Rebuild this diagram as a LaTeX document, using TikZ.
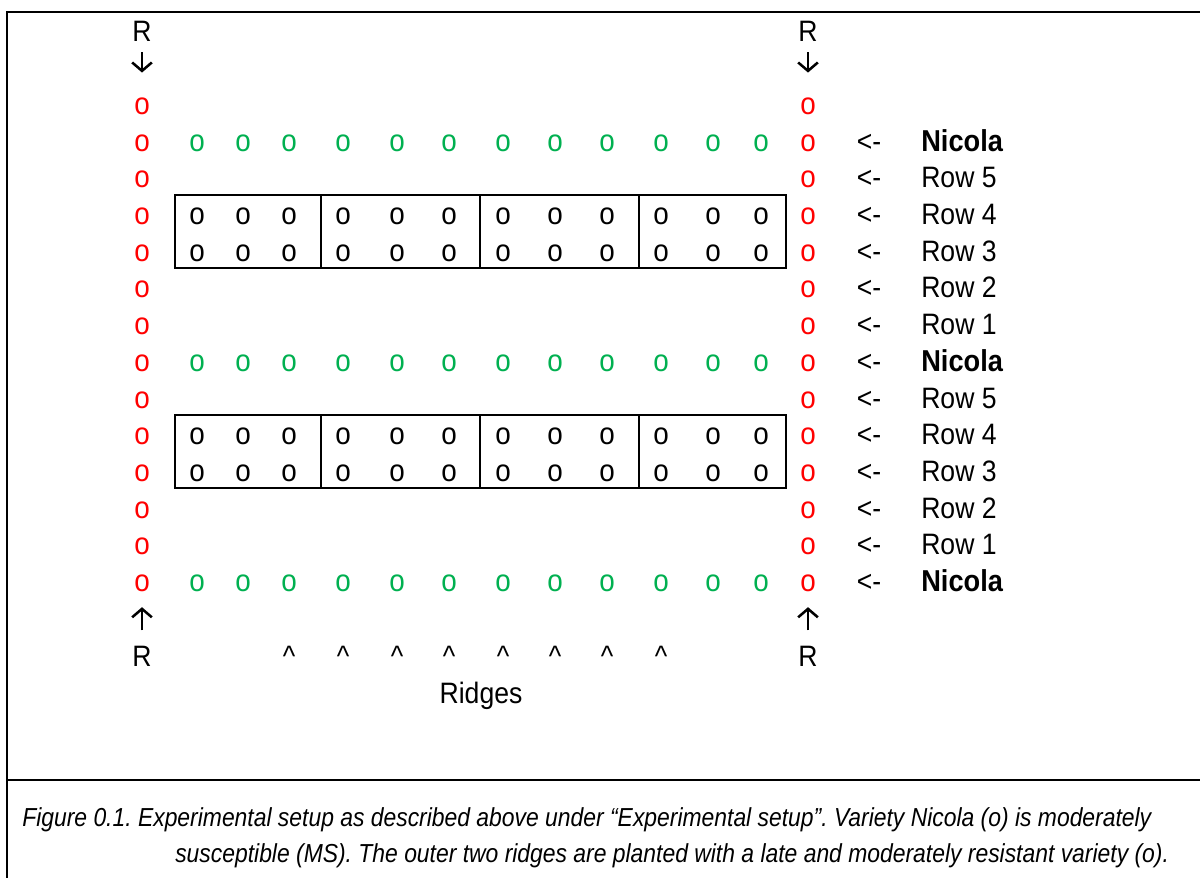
\documentclass[tikz,border=0pt]{standalone}
\usepackage{fontspec}
\setmainfont{Liberation Sans}[FakeStretch=0.9]
\newfontfamily\capfont{Liberation Sans}[FakeStretch=0.88]
\usetikzlibrary{arrows.meta}
\definecolor{borderred}{RGB}{255,0,0}
\definecolor{nicolagreen}{RGB}{0,176,80}
\frenchspacing
\begin{document}
\begin{tikzpicture}[x=0.025cm,y=-0.025cm,
    txt/.style={inner sep=0,anchor=base,font=\fontsize{21}{21}\selectfont},
    plant/.style={txt,font=\fontsize{22}{22}\selectfont},
    bed/.style={line width=1.4pt},
    rarrow/.style={line width=1.8pt,-{Straight Barb[length=6pt,width=14pt,line width=1.8pt]}}]
    \useasboundingbox (0,0) rectangle (1200,878);
    %% Frame
    \draw[line width=2pt] (1200,12) -- (7,12) -- (7,878);
    \draw[line width=1.6pt] (7,780) -- (1200,780);
    %% Resistant border rows
    \foreach \i in {0,...,13} {
        \node[plant,text=borderred] (redL-\i) at (142,114.5+36.7*\i) {o};
        \node[plant,text=borderred] (redR-\i) at (808,114.5+36.7*\i) {o};
    }
    %% Nicola rows
    \foreach \r in {1,7,13}
        \foreach \x [count=\c] in {197,243,289,343,397,449,503,555,607,661,713,761}
            \node[plant,text=nicolagreen] (nic-\r-\c) at (\x,114.5+36.7*\r) {o};
    %% Plots
    \foreach \r in {3,4,9,10}
        \foreach \x [count=\c] in {197,243,289,343,397,449,503,555,607,661,713,761}
            \node[plant] (plot-\r-\c) at (\x,114.5+36.7*\r) {o};
    \foreach \y in {195,415} {
        \draw[bed] (175,\y) rectangle (786,\y+73);
        \foreach \x in {321,480,639}
            \draw[bed] (\x,\y) -- (\x,\y+73);
    }
    %% Row labels
    \foreach \r/\lab in {2/Row 5,3/Row 4,4/Row 3,5/Row 2,6/Row 1,8/Row 5,9/Row 4,10/Row 3,11/Row 2,12/Row 1}
        \node[txt,anchor=base west] (lab-\r) at (921,114.5+36.7*\r) {\lab};
    \foreach \r in {1,7,13}
        \node[txt,anchor=base west,font=\fontsize{21.5}{21.5}\selectfont\bfseries] (lab-\r) at (921,114.5+36.7*\r) {Nicola};
    \foreach \r in {1,...,13}
        \node[txt] (ptr-\r) at (869,114.5+36.7*\r) {<-};
    %% R markers
    \node[txt] (Rtl) at (142,42) {R};
    \node[txt] (Rtr) at (808,42) {R};
    \node[txt] (Rbl) at (142,666) {R};
    \node[txt] (Rbr) at (808,666) {R};
    \draw[rarrow,shorten <=10*0.025cm,shorten >=25*0.025cm] (Rtl.south) -- (redL-0.north);
    \draw[rarrow,shorten <=10*0.025cm,shorten >=25*0.025cm] (Rtr.south) -- (redR-0.north);
    \draw[rarrow,shorten <=15*0.025cm,shorten >=15*0.025cm] (Rbl.north) -- (redL-13.south);
    \draw[rarrow,shorten <=15*0.025cm,shorten >=15*0.025cm] (Rbr.north) -- (redR-13.south);
    %% Ridges
    \foreach \x [count=\c] in {289,343,397,449,503,555,607,661}
        \node[txt] (ridge-\c) at (\x,666) {\textasciicircum};
    \node[txt] (ridges) at (481,703) {Ridges};
    %% Caption
    \node[inner sep=0,anchor=base west,font=\capfont\itshape\fontsize{18.5}{18.5}\selectfont] (cap1) at (22,826)
        {Figure 0.1. Experimental setup as described above under “Experimental setup”. Variety Nicola (o) is moderately};
    \node[inner sep=0,anchor=base west,font=\capfont\itshape\fontsize{18.5}{18.5}\selectfont] (cap2) at (175,862)
        {susceptible (MS). The outer two ridges are planted with a late and moderately resistant variety (o).};
\end{tikzpicture}
\end{document}
